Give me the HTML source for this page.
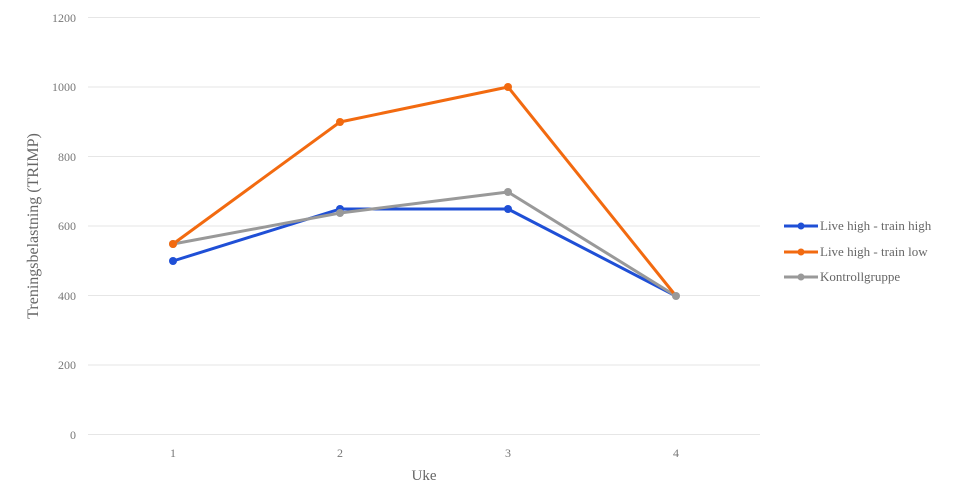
<!DOCTYPE html>
<html><head><meta charset="utf-8"><style>body{margin:0;background:#fff}svg{display:block}</style></head><body>
<svg width="960" height="504" xmlns="http://www.w3.org/2000/svg" font-family="Liberation Serif, serif">
<g stroke="#e6e6e6" stroke-width="1">
<line x1="88" x2="760" y1="17.5" y2="17.5"/><line x1="88" x2="760" y1="87" y2="87"/><line x1="88" x2="760" y1="156.5" y2="156.5"/><line x1="88" x2="760" y1="226" y2="226"/><line x1="88" x2="760" y1="295.5" y2="295.5"/><line x1="88" x2="760" y1="365" y2="365"/><line x1="88" x2="760" y1="434.5" y2="434.5"/>
</g>
<g fill="#777" font-size="12" text-anchor="end">
<text x="76" y="22">1200</text><text x="76" y="91">1000</text><text x="76" y="161">800</text><text x="76" y="230">600</text><text x="76" y="300">400</text><text x="76" y="369">200</text><text x="76" y="439">0</text>
</g>
<g fill="#777" font-size="12" text-anchor="middle">
<text x="173" y="457">1</text><text x="340" y="457">2</text><text x="508" y="457">3</text><text x="676" y="457">4</text>
</g>
<text x="424" y="480" fill="#666" font-size="15" text-anchor="middle">Uke</text>
<text transform="translate(38,226) rotate(-90)" fill="#666" font-size="16" text-anchor="middle">Treningsbelastning (TRIMP)</text>
<g fill="none" stroke-width="3" stroke-linejoin="round">
<polyline stroke="#1f4fd6" points="173,261 340,209 508,209 676,296"/>
<polyline stroke="#999" points="173,244 340,213 508,192 676,296"/>
<polyline stroke="#f26a10" points="173,244 340,122 508,87 676,296"/>
</g>
<g fill="#1f4fd6"><circle cx="173" cy="261" r="4"/><circle cx="340" cy="209" r="4"/><circle cx="508" cy="209" r="4"/></g>
<g fill="#999"><circle cx="173" cy="244" r="4"/><circle cx="340" cy="213" r="4"/><circle cx="508" cy="192" r="4"/><circle cx="676" cy="296" r="4"/></g>
<g fill="#f26a10"><circle cx="173" cy="244" r="4"/><circle cx="340" cy="122" r="4"/><circle cx="508" cy="87" r="4"/></g>
<g stroke-width="3"><line x1="784" x2="818" y1="226" y2="226" stroke="#1f4fd6"/><line x1="784" x2="818" y1="252" y2="252" stroke="#f26a10"/><line x1="784" x2="818" y1="277" y2="277" stroke="#999"/></g>
<circle cx="801" cy="226" r="3.5" fill="#1f4fd6"/><circle cx="801" cy="252" r="3.5" fill="#f26a10"/><circle cx="801" cy="277" r="3.5" fill="#999"/>
<g fill="#666" font-size="13"><text x="820" y="230">Live high - train high</text><text x="820" y="256">Live high - train low</text><text x="820" y="281">Kontrollgruppe</text></g>
</svg>
</body></html>
